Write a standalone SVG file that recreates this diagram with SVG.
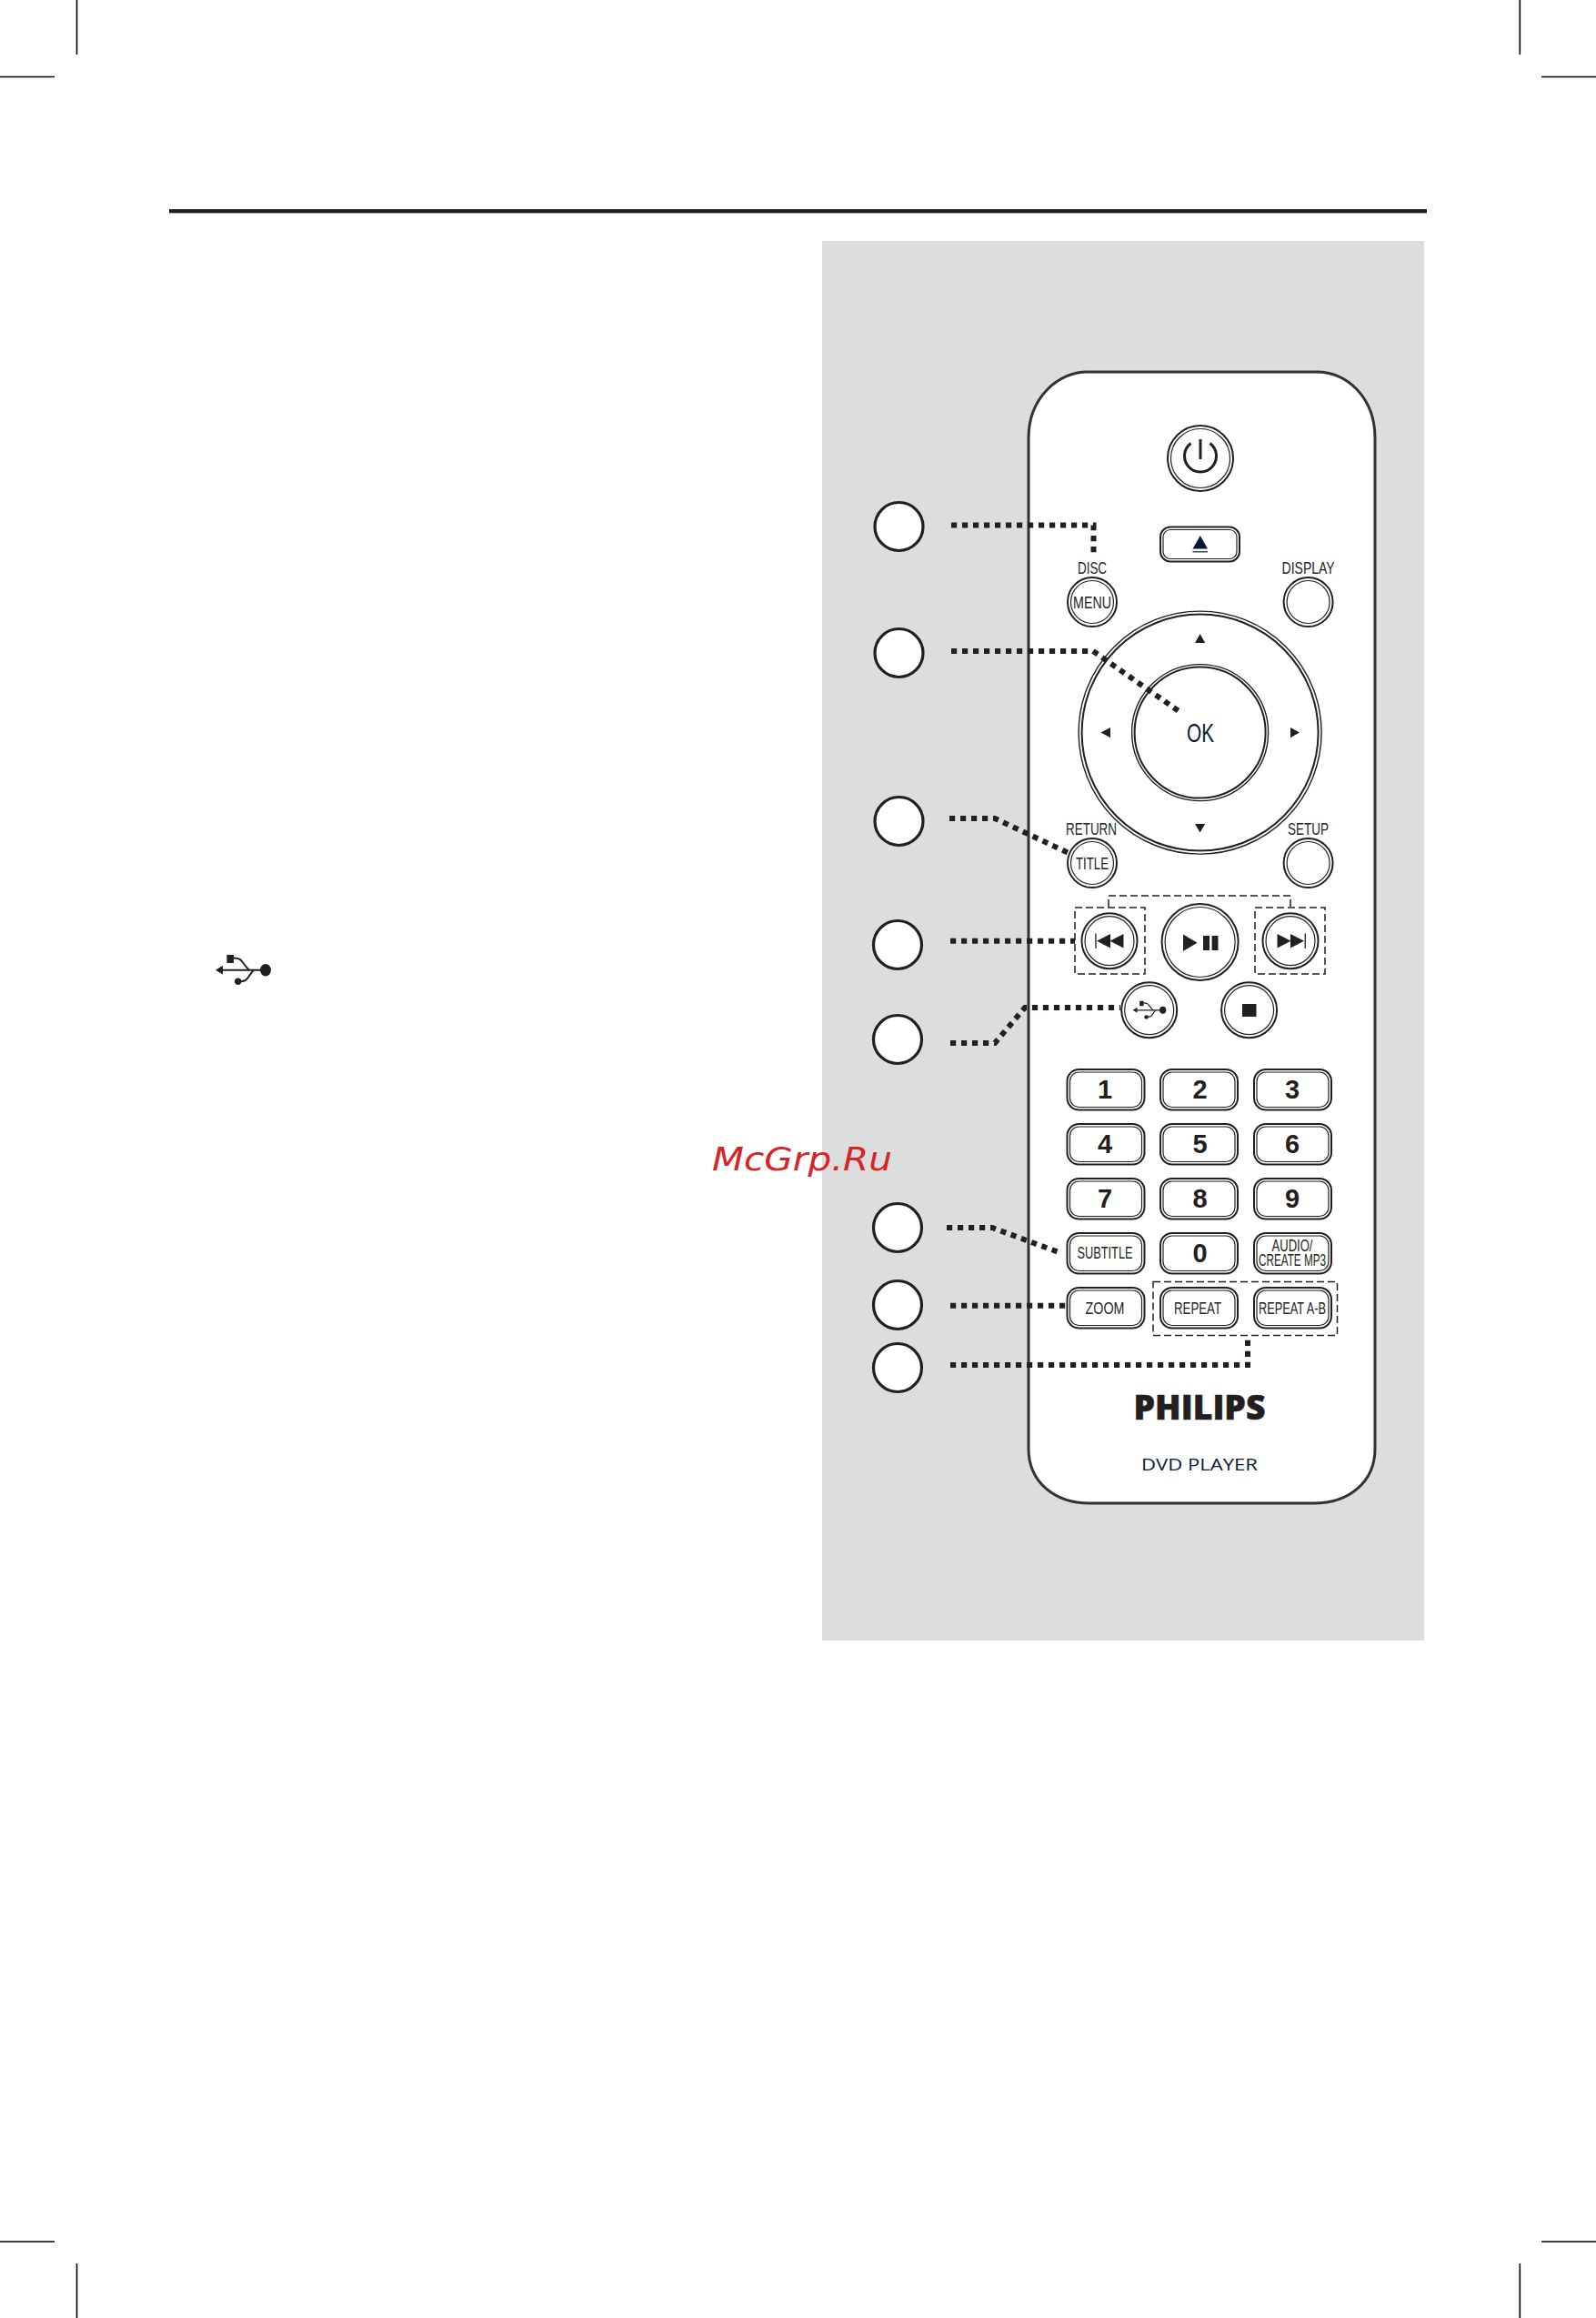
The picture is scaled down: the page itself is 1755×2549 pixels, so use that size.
<svg xmlns="http://www.w3.org/2000/svg" xmlns:xlink="http://www.w3.org/1999/xlink" width="1755" height="2549" viewBox="0 0 1755 2549">
<style>
.mark{stroke:#000;stroke-width:1.6;fill:none}
.ring{fill:#fff;stroke:#231f20;stroke-width:2}
.ring2{fill:none;stroke:#231f20;stroke-width:1.2}
.call{fill:#fff;stroke:#231f20;stroke-width:3.2}
.dot{fill:none;stroke:#231f20;stroke-width:6;stroke-dasharray:6.2 5.8}
.dash{fill:none;stroke:#231f20;stroke-width:1.5;stroke-dasharray:8 4}
.g{fill:#231f20}
.lbl{font-family:"Liberation Sans",Arial,sans-serif;font-size:18px;fill:#231f20;text-anchor:middle}
.num{font-family:"Liberation Sans",Arial,sans-serif;font-size:29px;font-weight:bold;fill:#231f20;text-anchor:middle}
.key{fill:#fff;stroke:#231f20;stroke-width:2}
.key2{fill:none;stroke:#231f20;stroke-width:1.2}
</style>
<defs>
<symbol id="usb" viewBox="0 0 62 32" width="62" height="32" overflow="visible">
<path d="M0 16.7L8 11.7V15.7H54V17.7H8V21.7Z" fill="#231f20"/>
<ellipse cx="55" cy="16.7" rx="6" ry="6.7" fill="#231f20"/>
<rect x="12.4" y="0" width="7.6" height="9" fill="#231f20"/>
<path d="M20 3.5C30 3.5 28 8 37 16.7" fill="none" stroke="#231f20" stroke-width="2"/>
<ellipse cx="24.7" cy="29.3" rx="3.7" ry="3.7" fill="#231f20"/>
<path d="M25 29.3C37 29.3 34 25 42 16.7" fill="none" stroke="#231f20" stroke-width="2"/>
</symbol>
<g id="btn27"><circle class="ring" r="27"/><circle class="ring2" r="23.5"/></g>
<g id="btn30"><circle class="ring" r="30.5"/><circle class="ring2" r="27"/></g>
<g id="key"><rect class="key" width="85" height="44.5" rx="13"/><rect class="key2" x="3" y="3" width="79" height="38.5" rx="10"/></g>
</defs>
<rect width="1755" height="2549" fill="#fff"/>
<g id="crop-marks">
<path class="mark" d="M84.5 0V60M0 84.5H60M1671.3 0V60M1695 84.5H1755M0 2465H60M84.5 2489V2549M1695 2465H1755M1671.3 2489V2549"/>
</g>
<rect id="top-rule" x="186" y="230" width="1383" height="4.3" fill="#231f20"/>
<rect id="panel" x="904" y="265" width="662" height="1539" fill="#dcdedd"/>
<use id="usb-note" xlink:href="#usb" href="#usb" x="237" y="1050"/>
<g id="remote">
<path d="M1131 482C1131 436 1165 409 1195 409H1448C1480 409 1512 436 1512 482V1593C1512 1630 1483 1653 1445 1653H1198C1160 1653 1131 1630 1131 1593Z" fill="#fff" stroke="#333132" stroke-width="3"/>
</g>
<g id="btn-power">
<circle class="ring" cx="1320" cy="504" r="36"/><circle class="ring2" cx="1320" cy="504" r="32.5"/>
<path d="M1309.5 487.5A17.5 17.5 0 1 0 1330.5 487.5" fill="none" stroke="#231f20" stroke-width="3"/>
<path d="M1320 483V505" stroke="#231f20" stroke-width="3"/>
</g>
<g id="btn-eject">
<rect class="key" x="1276" y="579.5" width="87" height="38" rx="11"/><rect class="key2" x="1279" y="582.5" width="81" height="32" rx="8"/>
<path d="M1319.8 589L1328 603.5H1311.5Z" fill="#0b1a33"/><path d="M1311.5 606.8H1328" stroke="#0b1a33" stroke-width="1.2"/>
</g>
<g id="btn-menu">
<text class="lbl" x="1201" y="631" textLength="32" lengthAdjust="spacingAndGlyphs">DISC</text>
<use href="#btn27" x="1201" y="662"/>
<text class="lbl" x="1201" y="669" textLength="42" lengthAdjust="spacingAndGlyphs">MENU</text>
</g>
<g id="btn-display">
<text class="lbl" x="1438.6" y="631" textLength="58" lengthAdjust="spacingAndGlyphs">DISPLAY</text>
<use href="#btn27" x="1438.6" y="662"/>
</g>
<g id="dpad">
<circle class="ring" cx="1319.6" cy="805.6" r="133.5" stroke-width="1.4" style="stroke-width:1.4"/><circle class="ring" cx="1319.6" cy="805.6" r="130"/>
<circle class="ring" cx="1319.6" cy="805.6" r="75" style="stroke-width:1.4"/><circle class="ring" cx="1319.6" cy="805.6" r="72"/>
<path class="g" d="M1319.6 697L1325.2 707H1314ZM1319.6 915.5L1325.2 906H1314ZM1210.5 805.6L1221 800V811.2ZM1429 805.6L1419 800V811.2Z"/>
<text x="1320" y="816" font-family="Liberation Sans,Arial,sans-serif" font-size="30" fill="#0b1a33" text-anchor="middle" textLength="30" lengthAdjust="spacingAndGlyphs">OK</text>
</g>
<g id="btn-title">
<text class="lbl" x="1200" y="918" textLength="56" lengthAdjust="spacingAndGlyphs">RETURN</text>
<use href="#btn27" x="1201" y="949"/>
<text class="lbl" x="1201" y="956" textLength="36" lengthAdjust="spacingAndGlyphs">TITLE</text>
</g>
<g id="btn-setup">
<text class="lbl" x="1438.6" y="918" textLength="45" lengthAdjust="spacingAndGlyphs">SETUP</text>
<use href="#btn27" x="1438.6" y="949"/>
</g>
<g id="btn-prev">
<use href="#btn30" x="1220" y="1034.7"/>
<path class="g" d="M1204.3 1026.5H1205.6V1043H1204.3ZM1206 1034.7L1221 1027V1042.5ZM1220.5 1034.7L1235.5 1027V1042.5Z"/>
</g>
<g id="btn-play">
<circle class="ring" cx="1319.6" cy="1036" r="42"/><circle class="ring2" cx="1319.6" cy="1036" r="38.5"/>
<path class="g" d="M1301 1027.5L1316.5 1036.7L1301 1046ZM1323 1029H1330V1045H1323ZM1332.6 1029H1339.5V1045H1332.6Z"/>
</g>
<g id="btn-next">
<use href="#btn30" x="1419" y="1034.7"/>
<path class="g" d="M1404.5 1027L1419.5 1034.7L1404.5 1042.5ZM1419 1027L1434 1034.7L1419 1042.5ZM1434.6 1026.5H1435.9V1043H1434.6Z"/>
</g>
<g id="skip-outline">
<path class="dash" d="M1219 997V985H1419V997"/>
<rect class="dash" x="1182" y="998" width="77" height="73"/>
<rect class="dash" x="1380" y="998" width="77" height="73"/>
</g>
<g id="btn-usb">
<use href="#btn30" x="1263.7" y="1110.7"/>
<use href="#usb" transform="translate(1245.7 1100.8) scale(.6)"/>
</g>
<g id="btn-stop">
<use href="#btn30" x="1373.6" y="1110.7"/>
<rect class="g" x="1366" y="1104" width="15.5" height="14"/>
</g>
<g id="key-1"><use href="#key" x="1173.5" y="1176"/><text class="num" x="1215" y="1208">1</text></g>
<g id="key-2"><use href="#key" x="1276" y="1176"/><text class="num" x="1319.6" y="1208">2</text></g>
<g id="key-3"><use href="#key" x="1379" y="1176"/><text class="num" x="1421" y="1208">3</text></g>
<g id="key-4"><use href="#key" x="1173.5" y="1236"/><text class="num" x="1215" y="1268">4</text></g>
<g id="key-5"><use href="#key" x="1276" y="1236"/><text class="num" x="1319.6" y="1268">5</text></g>
<g id="key-6"><use href="#key" x="1379" y="1236"/><text class="num" x="1421" y="1268">6</text></g>
<g id="key-7"><use href="#key" x="1173.5" y="1296"/><text class="num" x="1215" y="1328">7</text></g>
<g id="key-8"><use href="#key" x="1276" y="1296"/><text class="num" x="1319.6" y="1328">8</text></g>
<g id="key-9"><use href="#key" x="1379" y="1296"/><text class="num" x="1421" y="1328">9</text></g>
<g id="key-subtitle"><use href="#key" x="1173.5" y="1356"/><text class="lbl" x="1215" y="1384" textLength="61" lengthAdjust="spacingAndGlyphs">SUBTITLE</text></g>
<g id="key-0"><use href="#key" x="1276" y="1356"/><text class="num" x="1319.6" y="1388">0</text></g>
<g id="key-audio"><use href="#key" x="1379" y="1356"/><text class="lbl" x="1421" y="1375.5" textLength="45" lengthAdjust="spacingAndGlyphs">AUDIO/</text><text class="lbl" x="1421" y="1392" textLength="74" lengthAdjust="spacingAndGlyphs">CREATE MP3</text></g>
<g id="key-zoom"><use href="#key" x="1173.5" y="1416"/><text class="lbl" x="1215" y="1445" textLength="43" lengthAdjust="spacingAndGlyphs">ZOOM</text></g>
<g id="key-repeat"><use href="#key" x="1276" y="1416"/><text class="lbl" x="1317" y="1445" textLength="52" lengthAdjust="spacingAndGlyphs">REPEAT</text></g>
<g id="key-repeat-ab"><use href="#key" x="1379" y="1416"/><text class="lbl" x="1421" y="1445" textLength="74" lengthAdjust="spacingAndGlyphs">REPEAT A-B</text></g>
<rect id="repeat-outline" class="dash" x="1268" y="1409.5" width="202.5" height="59"/>
<g id="brand">
<text x="1319" y="1561" font-family="Open Sans,Liberation Sans,sans-serif" font-weight="800" font-size="37" fill="#231f20" stroke="#231f20" stroke-width=".6" text-anchor="middle" textLength="145" lengthAdjust="spacingAndGlyphs">PHILIPS</text>
<text x="1319" y="1616.5" font-family="Open Sans,Liberation Sans,sans-serif" font-size="19" fill="#0b1a33" text-anchor="middle" textLength="128" lengthAdjust="spacingAndGlyphs">DVD PLAYER</text>
</g>
<g id="connectors">
<path class="dot" d="M1046 577.5H1202.5V609"/>
<path class="dot" d="M1046 716H1202L1299 784"/>
<path class="dot" d="M1044 900H1094L1175 938"/>
<path class="dot" d="M1045 1034.7H1182"/>
<path class="dot" d="M1045 1147H1094L1127 1108H1232"/>
<path class="dot" d="M1041 1350H1091L1164 1377"/>
<path class="dot" d="M1045 1435.7H1172"/>
<path class="dot" d="M1045 1501H1372V1473"/>
</g>
<g id="callout-1"><circle class="call" cx="988.5" cy="579" r="26.5"/></g>
<g id="callout-2"><circle class="call" cx="988.5" cy="718" r="26.5"/></g>
<g id="callout-3"><circle class="call" cx="988.5" cy="903" r="26.5"/></g>
<g id="callout-4"><circle class="call" cx="987" cy="1039" r="26.5"/></g>
<g id="callout-5"><circle class="call" cx="987" cy="1143" r="26.5"/></g>
<g id="callout-6"><circle class="call" cx="987" cy="1350" r="26.5"/></g>
<g id="callout-7"><circle class="call" cx="987" cy="1435" r="26.5"/></g>
<g id="callout-8"><circle class="call" cx="987" cy="1504" r="26.5"/></g>
<text id="watermark" x="783" y="1287" font-family="DejaVu Sans,sans-serif" font-style="italic" font-size="36" fill="#d62427" textLength="198" lengthAdjust="spacingAndGlyphs">McGrp.Ru</text>
</svg>
